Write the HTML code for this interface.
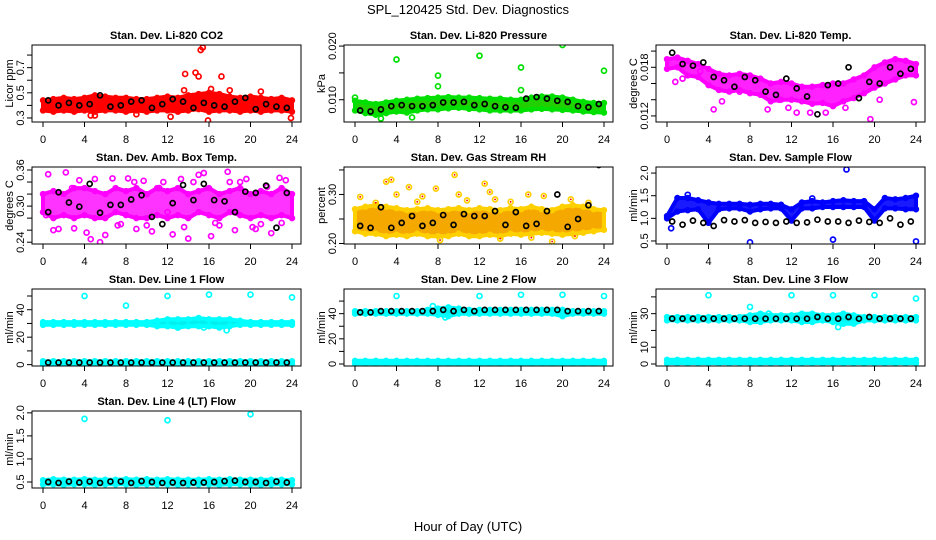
<!DOCTYPE html>
<html><head><meta charset="utf-8">
<style>
html,body{margin:0;padding:0;background:#fff;}
svg{display:block;font-family:"Liberation Sans",sans-serif;}
</style></head>
<body>
<svg id="chart" width="936" height="540" viewBox="0 0 936 540">
<rect x="0" y="0" width="936" height="540" fill="#fff"/>
<text x="468" y="14" text-anchor="middle" font-size="13">SPL_120425  Std. Dev. Diagnostics</text>
<text x="468" y="531" text-anchor="middle" font-size="13">Hour of Day (UTC)</text>
</svg>
<script>
const hours = [0,1,2,3,4,5,6,7,8,9,10,11,12,13,14,15,16,17,18,19,20,21,22,23,24];
const blackHours = [0.5,1.5,2.5,3.5,4.5,5.5,6.5,7.5,8.5,9.5,10.5,11.5,12.5,13.5,14.5,15.5,16.5,17.5,18.5,19.5,20.5,21.5,22.5,23.5];
const xTicks = [0,4,8,12,16,20,24];

const co2Lo = [0.36,0.35,0.36,0.35,0.36,0.35,0.36,0.36,0.35,0.36,0.35,0.36,0.36,0.35,0.36,0.37,0.35,0.36,0.36,0.35,0.36,0.35,0.36,0.36,0.35];
const co2Hi = [0.44,0.45,0.46,0.45,0.46,0.48,0.47,0.46,0.46,0.45,0.45,0.46,0.47,0.46,0.48,0.49,0.50,0.49,0.47,0.46,0.47,0.46,0.45,0.46,0.44];
const co2Black = [0.44,0.40,0.42,0.40,0.41,0.48,0.39,0.40,0.43,0.44,0.38,0.41,0.45,0.43,0.38,0.42,0.40,0.39,0.43,0.46,0.37,0.41,0.39,0.38];
const co2OutX = [13.7,14.7,15.0,15.2,15.4,17.2,13.6,16.2,15.9,12.3,4.6,23.9,18.0,21.0,5.0,9.0];
const co2OutY = [0.65,0.66,0.63,0.84,0.86,0.63,0.52,0.53,0.28,0.31,0.32,0.30,0.52,0.51,0.32,0.33];

const presLo = [0.0080,0.0075,0.0072,0.0075,0.0078,0.0076,0.0080,0.0082,0.0082,0.0084,0.0085,0.0083,0.0082,0.0080,0.0080,0.0080,0.0080,0.0082,0.0083,0.0082,0.0081,0.0080,0.0078,0.0077,0.0076];
const presHi = [0.0098,0.0095,0.0092,0.0095,0.0098,0.0100,0.0102,0.0103,0.0104,0.0105,0.0104,0.0104,0.0103,0.0102,0.0102,0.0100,0.0100,0.0104,0.0106,0.0106,0.0104,0.0100,0.0096,0.0094,0.0094];
const presBlack = [0.0080,0.0078,0.0082,0.0088,0.0090,0.0088,0.0088,0.0090,0.0095,0.0095,0.0096,0.0090,0.0092,0.0088,0.0086,0.0085,0.0102,0.0105,0.0102,0.0098,0.0096,0.0088,0.0086,0.0092];
const presOutX = [4,8,8,12,16,16,20,24,0,2.5,5.5];
const presOutY = [0.0175,0.0145,0.0125,0.0182,0.0160,0.0118,0.0202,0.0154,0.0104,0.0065,0.0067];

const tempLo = [0.0178,0.0180,0.0170,0.0168,0.0158,0.0152,0.0150,0.0152,0.0148,0.0146,0.0138,0.0140,0.0140,0.0138,0.0135,0.0136,0.0132,0.0138,0.0142,0.0148,0.0155,0.0160,0.0165,0.0170,0.0170];
const tempHi = [0.0190,0.0192,0.0188,0.0184,0.0178,0.0172,0.0170,0.0172,0.0170,0.0166,0.0160,0.0162,0.0160,0.0156,0.0156,0.0158,0.0160,0.0160,0.0165,0.0170,0.0180,0.0186,0.0190,0.0188,0.0184];
const tempBlack = [0.0198,0.0184,0.0182,0.0186,0.0168,0.0164,0.0156,0.0168,0.0164,0.0150,0.0146,0.0166,0.0154,0.0144,0.0122,0.0158,0.0160,0.0180,0.0142,0.0162,0.0160,0.0180,0.0172,0.0178];
const tempOutX = [0.8,1.5,4.5,5.3,9.7,12.5,13.8,15.3,17.2,19.6,23.8,3.2,7.0,10.8,11.7,20.5];
const tempOutY = [0.0162,0.0166,0.0128,0.0138,0.0128,0.0124,0.0124,0.0124,0.0130,0.0116,0.0137,0.0175,0.0150,0.0140,0.0130,0.0140];

const ambLo = [0.29,0.28,0.285,0.28,0.285,0.28,0.28,0.29,0.285,0.28,0.28,0.285,0.28,0.285,0.28,0.29,0.285,0.28,0.29,0.285,0.28,0.285,0.28,0.285,0.28];
const ambHi = [0.32,0.325,0.32,0.33,0.33,0.325,0.32,0.33,0.325,0.33,0.32,0.33,0.325,0.33,0.32,0.325,0.33,0.32,0.325,0.33,0.32,0.325,0.32,0.33,0.32];
const ambBlack = [0.290,0.323,0.306,0.299,0.337,0.289,0.302,0.302,0.311,0.318,0.282,0.270,0.305,0.335,0.310,0.337,0.310,0.308,0.290,0.324,0.322,0.334,0.264,0.322];
const ambOutX = [0.5,1.0,1.5,2.2,3.0,3.5,4.2,4.6,5.5,6.0,6.7,7.5,8.2,9.0,9.7,10.5,11.2,12.0,12.5,13.3,14.0,14.5,15.5,16.2,17.0,17.8,18.5,19.0,19.6,20.5,21.0,22.0,22.8,23.4,0.3,2.8,5.0,7.2,8.8,10.0,11.6,13.6,15.0,16.6,18.0,20.2,21.6,23.0];
const ambOutY = [0.353,0.260,0.262,0.356,0.263,0.343,0.256,0.245,0.240,0.252,0.346,0.270,0.346,0.262,0.342,0.258,0.330,0.290,0.253,0.345,0.246,0.340,0.355,0.250,0.268,0.357,0.260,0.340,0.345,0.262,0.270,0.255,0.347,0.343,0.285,0.330,0.345,0.268,0.340,0.268,0.340,0.265,0.352,0.272,0.340,0.265,0.332,0.272];

const rhLo = [0.225,0.220,0.220,0.215,0.218,0.215,0.220,0.215,0.215,0.215,0.220,0.215,0.215,0.218,0.215,0.220,0.218,0.220,0.222,0.220,0.218,0.220,0.222,0.225,0.228];
const rhHi = [0.270,0.275,0.278,0.275,0.272,0.268,0.270,0.272,0.268,0.270,0.272,0.268,0.272,0.270,0.268,0.272,0.270,0.275,0.270,0.268,0.275,0.278,0.275,0.270,0.268];
const rhBlack = [0.236,0.232,0.274,0.232,0.242,0.256,0.236,0.242,0.258,0.238,0.260,0.256,0.256,0.266,0.238,0.264,0.236,0.240,0.266,0.300,0.234,0.250,0.278,0.360];
const rhOutX = [0.5,3.0,3.5,4.0,5.2,6.0,6.5,7.8,8.2,9.6,10.0,10.8,12.5,13.0,13.5,15.0,16.7,17.0,18.2,19.0,20.8,21.2,22.5,2.0,14.0];
const rhOutY = [0.295,0.326,0.330,0.300,0.315,0.285,0.296,0.312,0.207,0.340,0.300,0.288,0.322,0.305,0.290,0.285,0.300,0.212,0.297,0.204,0.290,0.215,0.283,0.283,0.210];

const sampleLo = [1.00,1.15,1.18,1.20,0.90,1.20,1.22,1.22,1.15,1.20,1.22,1.22,0.95,1.22,1.22,1.25,1.25,1.25,1.25,1.25,0.95,1.22,1.22,1.20,1.20];
const sampleHi = [1.05,1.45,1.45,1.40,1.35,1.32,1.32,1.32,1.30,1.32,1.32,1.30,1.20,1.35,1.38,1.35,1.38,1.40,1.38,1.38,1.20,1.45,1.42,1.45,1.50];
const sampleBlack = [0.93,0.86,0.95,0.90,0.83,0.96,0.93,0.96,0.90,0.92,0.90,0.93,0.90,0.91,0.97,0.93,0.93,0.90,0.95,0.92,0.90,1.00,0.86,0.93];
const sampleOutX = [8,16,17.3,24,0.4,2,14];
const sampleOutY = [0.47,0.53,2.08,0.49,0.78,1.52,1.44];

const flowLowLo = [0.5,0.5,0.5,0.5,0.5,0.5,0.5,0.5,0.5,0.5,0.5,0.5,0.5,0.5,0.5,0.5,0.5,0.5,0.5,0.5,0.5,0.5,0.5,0.5,0.5];
const flowLowHi = [2.5,2.5,2.5,2.5,2.5,2.5,2.5,2.5,2.5,2.5,2.5,2.5,2.5,2.5,2.5,2.5,2.5,2.5,2.5,2.5,2.5,2.5,2.5,2.5,2.5];

const line1Lo = [29,29,29,29,29,29,29,29,29,29,29,28,28,27,28,28,28,27,28,29,29,29,29,29,29];
const line1Hi = [31,31,31,31,31,31,31,31,31,31,31,32,33,33,33,34,33,33,33,32,31,31,31,31,31];
const line1Black = [1.5,1.5,1.5,1.5,1.5,1.5,1.5,1.5,1.5,1.5,1.5,1.5,1.5,1.5,1.5,1.5,1.5,1.5,1.5,1.5,1.5,1.5,1.5,1.5];
const line1OutX = [4,8,12,16,20,24,17.7,13,15.5];
const line1OutY = [50,43,50,51,51,49,25,27,27];

const line2Lo = [40,40,40,40,40,40,40,40,39,38,40,40,40,40,40,40,40,40,40,40,38,40,40,40,40];
const line2Hi = [42,42,42,42,42,42,42,43,44,45,44,43,43,43,43,43,43,43,43,43,43,42,42,42,42];
const line2Black = [41,41,42,42,42,42,42,42,43,42,43,42,43,43,43,43,43,43,43,43,42,42,42,42];
const line2OutX = [4,12,16,20,24,7.5,8.7];
const line2OutY = [54,54,55,55,54,46,37];

const line3Lo = [26,26,26,26,26,26,26,26,25,25,26,26,26,25,25,26,25,24,24,26,26,26,26,26,26];
const line3Hi = [28,28,28,28,28,28,28,28,29,30,29,29,29,30,30,29,29,30,29,28,28,28,28,28,28];
const line3Black = [27,27,27,27,27,27,27,27,27,27,27,27,27,27,28,27,27,28,27,28,27,27,27,27];
const line3OutX = [4,12,16,20,24,8,16.5,9.8];
const line3OutY = [41,41,41,41,39,34,22,30];

const line4Lo = [0.45,0.45,0.44,0.45,0.45,0.44,0.45,0.45,0.45,0.44,0.45,0.45,0.45,0.44,0.45,0.45,0.45,0.44,0.45,0.45,0.45,0.44,0.45,0.45,0.45];
const line4Hi = [0.54,0.56,0.55,0.55,0.56,0.55,0.55,0.55,0.56,0.55,0.56,0.55,0.56,0.55,0.55,0.55,0.56,0.55,0.56,0.55,0.55,0.55,0.55,0.55,0.54];
const line4Black = [0.50,0.48,0.51,0.49,0.51,0.48,0.51,0.51,0.48,0.52,0.50,0.48,0.49,0.48,0.49,0.49,0.50,0.52,0.53,0.50,0.50,0.48,0.51,0.49];
const line4OutX = [4,12,20];
const line4OutY = [1.87,1.84,1.97];

const NS = 'http://www.w3.org/2000/svg';
const svg = document.getElementById('chart');
function mk(tag, attrs, parent) {
  const e = document.createElementNS(NS, tag);
  for (const k in attrs) e.setAttribute(k, attrs[k]);
  (parent || svg).appendChild(e);
  return e;
}

const panels = [
  {key:'co2', title:'Stan. Dev. Li-820 CO2', ylab:'Licor ppm', col:0,row:0, ymin:0.268,ymax:0.88, ticks:[0.3,0.4,0.5,0.6,0.7,0.8], labels:['0.3','0.5','0.7'], lo:co2Lo, hi:co2Hi, black:co2Black, ox:co2OutX, oy:co2OutY, color:'#ff0000', fill:'#ff0000'},
  {key:'pressure', title:'Stan. Dev. Li-820 Pressure', ylab:'kPa', col:1,row:0, ymin:0.00585,ymax:0.0202, ticks:[0.010,0.015,0.020], labels:['0.010','0.020'], lo:presLo, hi:presHi, black:presBlack, ox:presOutX, oy:presOutY, color:'#00e000', fill:'#22d000'},
  {key:'temp', title:'Stan. Dev. Li-820 Temp.', ylab:'degrees C', col:2,row:0, ymin:0.01125,ymax:0.02075, ticks:[0.012,0.014,0.016,0.018,0.020], labels:['0.012','0.018'], lo:tempLo, hi:tempHi, black:tempBlack, ox:tempOutX, oy:tempOutY, color:'#ff00ff', fill:'#ff22ff'},
  {key:'ambbox', title:'Stan. Dev. Amb. Box Temp.', ylab:'degrees C', col:0,row:1, ymin:0.237,ymax:0.365, ticks:[0.24,0.26,0.28,0.30,0.32,0.34,0.36], labels:['0.24','0.30','0.36'], lo:ambLo, hi:ambHi, black:ambBlack, ox:ambOutX, oy:ambOutY, color:'#ff00ff', fill:'#ff33ff'},
  {key:'rh', title:'Stan. Dev. Gas Stream RH', ylab:'percent', col:1,row:1, ymin:0.199,ymax:0.356, ticks:[0.20,0.25,0.30,0.35], labels:['0.20','0.30'], lo:rhLo, hi:rhHi, black:rhBlack, ox:rhOutX, oy:rhOutY, color:'#ffd000', fill:'#f5a800', cross:'#ff0000'},
  {key:'sampleflow', title:'Stan. Dev. Sample Flow', ylab:'ml/min', col:2,row:1, ymin:0.433,ymax:2.134, ticks:[0.5,1.0,1.5,2.0], labels:['0.5','1.0','1.5','2.0'], lo:sampleLo, hi:sampleHi, black:sampleBlack, ox:sampleOutX, oy:sampleOutY, color:'#0000ff', fill:'#1a1aff'},
  {key:'line1', title:'Stan. Dev. Line 1 Flow', ylab:'ml/min', col:0,row:2, ymin:-1,ymax:55.1, ticks:[0,10,20,30,40,50], labels:['0','20','40'], lo:line1Lo, hi:line1Hi, lo2:flowLowLo, hi2:flowLowHi, black:line1Black, ox:line1OutX, oy:line1OutY, color:'#00ffff', fill:'#00f0f0', noXLabels:false},
  {key:'line2', title:'Stan. Dev. Line 2 Flow', ylab:'ml/min', col:1,row:2, ymin:-1.6,ymax:59.6, ticks:[0,10,20,30,40,50], labels:['0','20','40'], lo:line2Lo, hi:line2Hi, lo2:flowLowLo, hi2:flowLowHi, black:line2Black, ox:line2OutX, oy:line2OutY, color:'#00ffff', fill:'#00f0f0'},
  {key:'line3', title:'Stan. Dev. Line 3 Flow', ylab:'ml/min', col:2,row:2, ymin:-1.2,ymax:44.7, ticks:[0,10,20,30,40], labels:['0','10','30'], lo:line3Lo, hi:line3Hi, lo2:flowLowLo, hi2:flowLowHi, black:line3Black, ox:line3OutX, oy:line3OutY, color:'#00ffff', fill:'#00f0f0'},
  {key:'line4', title:'Stan. Dev. Line 4 (LT) Flow', ylab:'ml/min', col:0,row:3, ymin:0.37,ymax:2.04, ticks:[0.5,1.0,1.5,2.0], labels:['0.5','1.0','1.5','2.0'], lo:line4Lo, hi:line4Hi, black:line4Black, ox:line4OutX, oy:line4OutY, color:'#00ffff', fill:'#00f0f0'}
];

function fmtMatch(v, labels) {
  for (const l of labels) if (Math.abs(parseFloat(l) - v) < 1e-9) return l;
  return null;
}

panels.forEach(p => {
  const L = 32 + 312 * p.col, R = L + 269;
  const T = 45 + 122 * p.row, B = T + 77;
  const x0 = L + 11, x24 = L + 260;
  const sx = h => x0 + (x24 - x0) * h / 24;
  const sy = v => B - (B - T) * (v - p.ymin) / (p.ymax - p.ymin);
  const g = mk('g', {});
  
  
  const clipId = 'clip-' + p.key;
  const cp = mk('clipPath', {id: clipId}, g);
  mk('rect', {x: L, y: T, width: R - L, height: B - T}, cp);
  const marks = mk('g', {'clip-path': 'url(#' + clipId + ')'}, g);
  
  

  function band(lo, hi, name) {
    let d = '';
    hours.forEach((h, i) => { d += (i ? 'L' : 'M') + sx(h).toFixed(1) + ' ' + sy(hi[i]).toFixed(1); });
    for (let i = hours.length - 1; i >= 0; i--) d += 'L' + sx(hours[i]).toFixed(1) + ' ' + sy(lo[i]).toFixed(1);
    d += 'Z';
    const b = mk('path', {d: d, fill: p.fill, stroke: p.color, 'stroke-width': 4, 'stroke-linejoin': 'round'}, marks);
    
    
    hours.forEach((h, i) => {
      [lo[i], hi[i]].forEach(v => {
        const c = mk('circle', {cx: sx(h), cy: sy(v), r: 2.4, fill: 'none', stroke: p.color, 'stroke-width': 1.6}, marks);
        
        
      });
    });
  }
  band(p.lo, p.hi, p.key + '-band');
  if (p.lo2) band(p.lo2, p.hi2, p.key + '-low-band');

  p.ox.forEach((h, i) => {
    const c = mk('circle', {cx: sx(h), cy: sy(p.oy[i]), r: 2.5, fill: 'none', stroke: p.color, 'stroke-width': 1.7}, marks);
    
    
    if (p.cross) {
      const cr = mk('circle', {cx: sx(h), cy: sy(p.oy[i]), r: 0.9, fill: p.cross}, marks);
      
      
    }
  });

  blackHours.forEach((h, i) => {
    const c = mk('circle', {cx: sx(h), cy: sy(p.black[i]), r: 2.5, fill: 'none', stroke: '#000', 'stroke-width': 1.7}, marks);
    
    
  });

  const box = mk('rect', {x: L, y: T, width: R - L, height: B - T, fill: 'none', stroke: '#000', 'stroke-width': 1}, g);
  
  

  const title = mk('text', {x: (L + R) / 2, y: T - 6, 'text-anchor': 'middle', 'font-size': 11, 'font-weight': 'bold'}, g);
  title.textContent = p.title;
  
  

  // x axis
  mk('line', {x1: sx(0), x2: sx(24), y1: B, y2: B, stroke: '#000'}, g);
  xTicks.forEach(t => {
    mk('line', {x1: sx(t), x2: sx(t), y1: B, y2: B + 5, stroke: '#000'}, g);
    const tl = mk('text', {x: sx(t), y: B + 21, 'text-anchor': 'middle', 'font-size': 11}, g);
    tl.textContent = String(t);
    
    
  });

  // y axis
  mk('line', {x1: L, x2: L, y1: sy(p.ticks[0]), y2: sy(p.ticks[p.ticks.length - 1]), stroke: '#000'}, g);
  p.ticks.forEach(t => {
    const y = sy(t);
    mk('line', {x1: L - 5, x2: L, y1: y, y2: y, stroke: '#000'}, g);
    const lab = fmtMatch(t, p.labels);
    if (lab) {
      const tl = mk('text', {x: 0, y: 0, 'text-anchor': 'middle', 'font-size': 11, transform: 'translate(' + (L - 8) + ',' + y + ') rotate(-90)'}, g);
      tl.textContent = lab;
      
      
    }
  });
  const yl = mk('text', {x: 0, y: 0, 'text-anchor': 'middle', 'font-size': 11, transform: 'translate(' + (L - 19) + ',' + ((T + B) / 2) + ') rotate(-90)'}, g);
  yl.textContent = p.ylab;
  
  
});
</script>
</body></html>
